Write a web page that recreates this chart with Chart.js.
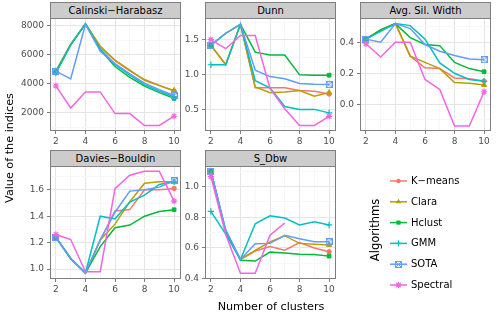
<!DOCTYPE html>
<html><head><meta charset="utf-8">
<script src="https://cdn.jsdelivr.net/npm/chart.js@4.4.1/dist/chart.umd.min.js"></script>
<style>
html,body{margin:0;padding:0;background:#fff;}
body{width:503px;height:315px;position:relative;overflow:hidden;font-family:'DejaVu Sans',sans-serif;}
.strip{position:absolute;box-sizing:border-box;height:17px;width:131px;background:#cccccc;border:1px solid #7f7f7f;font-size:10px;line-height:15px;text-align:center;color:#000;white-space:nowrap;}
.cv{position:absolute;}
.txt{position:absolute;white-space:nowrap;color:#000;}
</style></head>
<body>
<div class="strip" style="left:50px;top:2px">Calinski−Harabasz</div>
<div class="strip" style="left:205px;top:2px">Dunn</div>
<div class="strip" style="left:360px;top:2px">Avg. Sil. Width</div>
<div class="strip" style="left:50px;top:150px">Davies−Bouldin</div>
<div class="strip" style="left:205px;top:150px">S_Dbw</div>
<canvas id="c1" class="cv" width="190" height="145" style="left:0px;top:8px;width:190px;height:145px"></canvas>
<canvas id="c2" class="cv" width="190" height="145" style="left:155px;top:8px;width:190px;height:145px"></canvas>
<canvas id="c3" class="cv" width="190" height="145" style="left:310px;top:8px;width:190px;height:145px"></canvas>
<canvas id="c4" class="cv" width="190" height="145" style="left:0px;top:156px;width:190px;height:145px"></canvas>
<canvas id="c5" class="cv" width="190" height="145" style="left:155px;top:156px;width:190px;height:145px"></canvas>
<canvas id="lg" class="cv" width="40" height="130" style="left:380px;top:168px;width:40px;height:130px"></canvas>
<div class="txt" style="left:171px;top:300px;width:200px;text-align:center;font-size:11.2px;line-height:14px">Number of clusters</div>
<div class="txt" style="left:-90px;top:141px;width:200px;text-align:center;font-size:11.2px;line-height:14px;transform:rotate(-90deg)">Value of the indices</div>
<div class="txt" style="left:325px;top:223px;width:100px;text-align:center;font-size:11.5px;line-height:14px;transform:rotate(-90deg)">Algorithms</div>
<div id="legendText"></div>
<script>
const clusters = [2, 3, 4, 5, 6, 7, 8, 9, 10];
const algorithms = ['K−means', 'Clara', 'Hclust', 'GMM', 'SOTA', 'Spectral'];
// rows follow the order of `algorithms`
const calinskiHarabasz = [
  [4850, 6700, 8150, 6550, 5600, 4900, 4300, 3900, 3500],
  [4900, 6750, 8150, 6600, 5650, 4950, 4250, 3880, 3550],
  [4800, 6700, 8150, 6350, 5200, 4450, 3850, 3400, 3000],
  [4750, 6700, 8150, 6400, 5350, 4600, 3950, 3500, 3100],
  [4880, 4350, 8120, 6250, 5400, 4700, 4050, 3600, 3200],
  [3860, 2340, 3450, 3450, 1950, 1950, 1130, 1130, 1770]
];
const dunn = [
  [1.42, 1.14, 1.72, 0.81, 0.81, 0.81, 0.77, 0.76, 0.72],
  [1.42, 1.14, 1.72, 0.82, 0.74, 0.75, 0.77, 0.69, 0.74],
  [1.42, 1.59, 1.72, 1.32, 1.28, 1.28, 0.995, 0.99, 0.99],
  [1.14, 1.14, 1.72, 0.91, 0.81, 0.54, 0.50, 0.50, 0.45],
  [1.42, 1.59, 1.72, 1.06, 0.97, 0.94, 0.87, 0.86, 0.855],
  [1.50, 1.37, 1.56, 1.56, 0.80, 0.51, 0.27, 0.27, 0.40]
];
const avgSilWidth = [
  [0.42, 0.48, 0.52, 0.31, 0.235, 0.23, 0.17, 0.165, 0.15],
  [0.42, 0.48, 0.52, 0.31, 0.27, 0.23, 0.14, 0.135, 0.125],
  [0.42, 0.48, 0.52, 0.43, 0.385, 0.378, 0.27, 0.23, 0.21],
  [0.42, 0.47, 0.52, 0.507, 0.42, 0.267, 0.20, 0.16, 0.148],
  [0.42, 0.40, 0.52, 0.488, 0.385, 0.342, 0.315, 0.292, 0.287],
  [0.39, 0.305, 0.40, 0.40, 0.16, 0.096, -0.14, -0.14, 0.081]
];
const daviesBouldin = [
  [1.24, 1.08, 0.97, 1.22, 1.44, 1.45, 1.60, 1.60, 1.61],
  [1.24, 1.08, 0.97, 1.22, 1.34, 1.51, 1.65, 1.66, 1.66],
  [1.24, 1.08, 0.97, 1.17, 1.313, 1.333, 1.40, 1.436, 1.449],
  [1.24, 1.08, 0.97, 1.40, 1.38, 1.507, 1.56, 1.64, 1.66],
  [1.24, 1.08, 0.97, 1.22, 1.43, 1.59, 1.60, 1.62, 1.668],
  [1.262, 1.224, 0.98, 0.98, 1.608, 1.71, 1.74, 1.74, 1.514]
];
const sDbw = [
  [1.10, 0.71, 0.525, 0.58, 0.61, 0.585, 0.635, 0.60, 0.575],
  [1.10, 0.71, 0.525, 0.585, 0.64, 0.68, 0.63, 0.625, 0.62],
  [1.10, 0.71, 0.52, 0.515, 0.573, 0.568, 0.56, 0.557, 0.547],
  [0.838, 0.69, 0.525, 0.758, 0.81, 0.795, 0.75, 0.77, 0.75],
  [1.10, 0.72, 0.525, 0.627, 0.63, 0.683, 0.66, 0.64, 0.64],
  [1.065, 0.69, 0.435, 0.435, 0.683, 0.763, null, null, null]
];
const colors = ['#F8766D', '#B79F00', '#00BA38', '#00BFC4', '#619CFF', '#F564E3'];

function sqCross(col){
  const c = document.createElement('canvas'); c.width = 7; c.height = 7;
  const g = c.getContext('2d'); g.strokeStyle = col; g.lineWidth = 1;
  g.strokeRect(0.5, 0.5, 6, 6);
  g.beginPath(); g.moveTo(0.5,0.5); g.lineTo(6.5,6.5); g.moveTo(6.5,0.5); g.lineTo(0.5,6.5); g.stroke();
  return c;
}
const pointStyles = ['circle', 'triangle', 'rect', 'cross', sqCross(colors[4]), 'star'];
const radii = [2.2, 3, 2.6, 3.2, 3, 3.2];
const pbw = [1, 1, 1, 1.2, 1, 1.1];
const FONT = 'DejaVu Sans';
const tickColor = '#4d4d4d';

const borderPlugin = {
  id: 'pborder',
  afterDraw(chart){
    const {ctx, chartArea: a} = chart;
    ctx.save(); ctx.strokeStyle = '#7f7f7f'; ctx.lineWidth = 1;
    ctx.strokeRect(Math.round(a.left)+0.5, Math.round(a.top)+0.5, Math.round(a.right-a.left), Math.round(a.bottom-a.top)-1);
    ctx.restore();
  }
};

function isIn(v, arr){ return arr.some(m => Math.abs(m - v) < 1e-9); }

function makeChart(id, values, yMin, yMax, majors, minors, fmt){
  const last = clusters.length - 1;
  const datasets = algorithms.map((name, i) => ({
    label: name,
    data: clusters.map((c, j) => ({x: c, y: values[i][j]})),
    borderColor: colors[i], backgroundColor: colors[i],
    pointBorderColor: colors[i], pointBackgroundColor: colors[i],
    borderWidth: 1.5, tension: 0, order: 6 - i, spanGaps: false,
    pointStyle: pointStyles[i],
    pointRadius: ctx => (ctx.dataIndex === 0 || ctx.dataIndex === last) ? radii[i] : 0,
    pointBorderWidth: pbw[i], pointHoverRadius: 0
  }));
  const yt = [...majors, ...minors].sort((a,b)=>a-b);
  new Chart(document.getElementById(id), {
    type: 'line',
    data: {datasets},
    options: {
      responsive: false, animation: false, events: [],
      layout: {padding: {top: 10, right: 10, left: 0, bottom: 0}},
      plugins: {legend: {display: false}, tooltip: {enabled: false}},
      scales: {
        x: {
          type: 'linear', min: 1.6, max: 10.4,
          afterBuildTicks: s => { s.ticks = clusters.map(v => ({value: v})); },
          afterFit: s => { s.height = 22; },
          ticks: {autoSkip: false, maxRotation: 0, padding: 2, color: tickColor, font: {family: FONT, size: 9},
                  callback: v => (v % 2 === 0 ? String(v) : '')},
          grid: {color: c => (c.tick && c.tick.value % 2 === 0) ? '#E5E5E5' : '#F7F7F7',
                 tickColor: c => (c.tick && c.tick.value % 2 === 0) ? '#7f7f7f' : 'rgba(0,0,0,0)',
                 tickLength: 3, lineWidth: 1},
          border: {display: false}
        },
        y: {
          type: 'linear', min: yMin, max: yMax,
          afterBuildTicks: s => { s.ticks = yt.map(v => ({value: v})); },
          afterFit: s => { s.width = 50; },
          ticks: {autoSkip: false, padding: 3, color: tickColor, font: {family: FONT, size: 9},
                  callback: v => (isIn(v, majors) ? fmt(v) : '')},
          grid: {color: c => (c.tick && isIn(c.tick.value, majors)) ? '#E5E5E5' : '#F7F7F7',
                 tickColor: c => (c.tick && isIn(c.tick.value, majors)) ? '#7f7f7f' : 'rgba(0,0,0,0)',
                 tickLength: 3, lineWidth: 1},
          border: {display: false}
        }
      }
    },
    plugins: [borderPlugin]
  });
}

makeChart('c1', calinskiHarabasz, 750, 8550, [2000, 4000, 6000, 8000], [1000, 3000, 5000, 7000], v => String(v));
makeChart('c2', dunn, 0.19, 1.81, [0.5, 1.0, 1.5], [0.25, 0.75, 1.25, 1.75], v => v.toFixed(1));
makeChart('c3', avgSilWidth, -0.172, 0.556, [0.0, 0.2, 0.4], [-0.1, 0.1, 0.3, 0.5], v => v.toFixed(1));
makeChart('c4', daviesBouldin, 0.925, 1.78, [1.0, 1.2, 1.4, 1.6], [1.1, 1.3, 1.5, 1.7], v => v.toFixed(1));
makeChart('c5', sDbw, 0.398, 1.134, [0.4, 0.6, 0.8, 1.0], [0.5, 0.7, 0.9, 1.1], v => v.toFixed(1));

// legend
(function(){
  const cv = document.getElementById('lg'); const g = cv.getContext('2d');
  const ox = 380, oy = 168;
  const holder = document.getElementById('legendText');
  algorithms.forEach((name, i) => {
    const y = 181 + 20.8 * i;
    const ly = y - oy, x0 = 390 - ox, x1 = 407 - ox, cx = (x0 + x1) / 2;
    g.strokeStyle = colors[i]; g.fillStyle = colors[i]; g.lineWidth = 1.5;
    g.beginPath(); g.moveTo(x0, ly); g.lineTo(x1, ly); g.stroke();
    g.lineWidth = 1;
    const r = radii[i];
    if (i === 0) { g.beginPath(); g.arc(cx, ly, r, 0, Math.PI*2); g.fill(); }
    else if (i === 1) { g.beginPath(); g.moveTo(cx, ly - r); g.lineTo(cx + r*0.87, ly + r*0.5); g.lineTo(cx - r*0.87, ly + r*0.5); g.closePath(); g.fill(); }
    else if (i === 2) { g.fillRect(cx - r*0.8, ly - r*0.8, r*1.6, r*1.6); }
    else if (i === 3) { g.lineWidth = 1.2; g.beginPath(); g.moveTo(cx - r, ly); g.lineTo(cx + r, ly); g.moveTo(cx, ly - r); g.lineTo(cx, ly + r); g.stroke(); }
    else if (i === 4) { g.drawImage(pointStyles[4], Math.round(cx - 3.5), Math.round(ly - 3.5)); }
    else { g.lineWidth = 1.1; g.beginPath(); g.moveTo(cx - r, ly); g.lineTo(cx + r, ly); g.moveTo(cx, ly - r); g.lineTo(cx, ly + r);
           const d = r*0.707; g.moveTo(cx - d, ly - d); g.lineTo(cx + d, ly + d); g.moveTo(cx + d, ly - d); g.lineTo(cx - d, ly + d); g.stroke(); }
    const t = document.createElement('div');
    t.className = 'txt'; t.textContent = name;
    t.style.cssText = 'left:411px;top:' + (y - 7) + 'px;font-size:10px;line-height:14px;';
    holder.appendChild(t);
  });
})();
</script>
</body></html>
